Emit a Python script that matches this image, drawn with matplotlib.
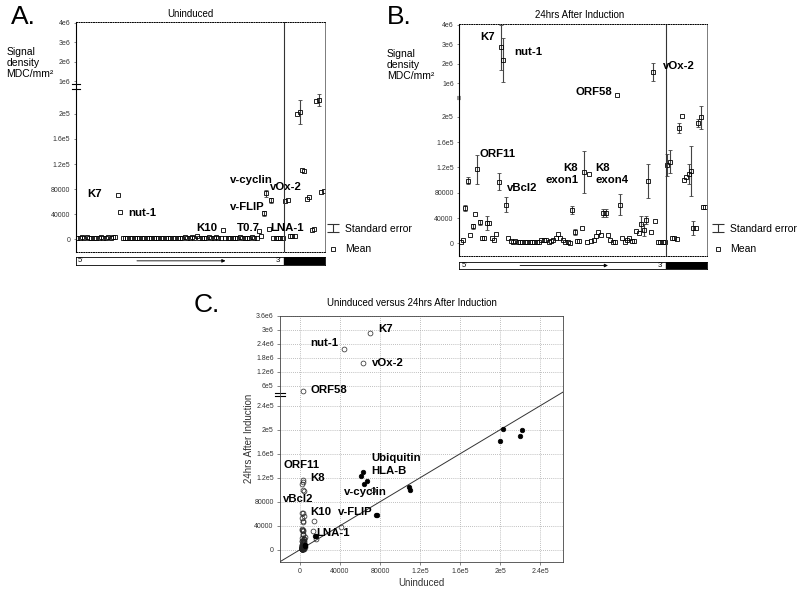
import numpy as np
import matplotlib
matplotlib.use("Agg")
import matplotlib.pyplot as plt
from matplotlib.path import Path
from matplotlib.lines import Line2D

plt.rcParams['font.family'] = ['Liberation Sans', 'DejaVu Sans']

W, H = 800, 592

# ---------------- data (signal density, MDC/mm2) ----------------
uninduced_viral = [1500, 2500, 3500, 3000, 3500, 3000, 2500, 3000, 2000, 2500,
                   3500, 2500, 3000, 3500, 1500, 3500, 3500, 70000, 43500, 3000,
                   2500, 1500, 2500,
                   2000, 2500, 2000, 1500, 1500, 2500, 2000, 1500, 1500, 2000,
                   2000, 1500, 2500, 1500, 1500, 1500, 1500, 2000,
                   1500, 1500, 2500, 1500, 3500, 2000,
                   2000, 4000, 3000, 5300, 3000, 2500, 3000, 2000, 3500, 2500,
                   2500, 3500, 2000, 3000, 14300, 3000, 2500, 1500, 2500, 2500, 2000,
                   3500, 2500, 1500, 1500, 1500, 4300, 1500, 3000, 13300, 5300, 41400,
                   73300, 16000, 62700, 1600, 1600, 1600, 1600, 1600]
uninduced_viral_err = [0] * 78 + [4000, 6000, 0, 4000, 0, 0, 0, 0, 0]

induced_viral = [1600, 5300, 56000, 99000, 12800, 26700, 47000, 117000, 33600, 9000,
                 8000, 32000, 32500, 8500, 5300, 15000, 97500, 2850000, 2180000, 61000,
                 8500, 4000, 1600,
                 3000, 2000, 1500, 1500, 1500, 2500, 2500, 2500, 1500, 1500,
                 1500, 5000, 5000, 5000, 2500, 4000, 4500, 8000,
                 14000, 8500, 5000, 2700, 1600, 500,
                 53000, 17600, 4000, 4000, 24500, 112500, 1600, 109000, 4300, 5900,
                 12300, 17600, 13900, 48000, 48000, 13300, 5000, 2700, 2700, 397000, 61300,
                 8500, 1600, 5900, 8500, 4300, 3000, 19200, 16000, 31000, 21300, 37300,
                 99000, 17600, 1570000, 35000, 1600, 1600, 1600, 1600]
induced_viral_err = [0, 0, 5000, 6000, 0, 4000, 0, 23000, 4000, 0,
                     0, 11000, 0, 0, 0, 0, 13000, 1160000, 1130000, 12000,
                     0, 0, 0,
                     0, 0, 0, 0, 0, 0, 0, 0, 0, 0, 0, 0, 0, 0, 0, 0, 0, 0,
                     0, 0, 0, 0, 0, 0,
                     6000, 5000, 0, 0, 0, 33000, 0, 0, 0, 0,
                     0, 0, 0, 6000, 6000, 0, 0, 0, 0, 0, 17000,
                     0, 0, 0, 0, 0, 0, 0, 0, 12000, 9000, 6000,
                     27000, 0, 450000, 0, 0, 0, 0, 0]

uninduced_ctrl = [61000, 63000, 5300, 5300, 5300, 200000, 203000, 110000, 109000,
                  64000, 67000, 15000, 16000, 220000, 222000, 76000, 77000]
uninduced_ctrl_err = [0, 0, 0, 0, 0, 0, 19000, 0, 0, 0, 0, 0, 0, 0, 9000, 0, 0]
induced_ctrl = [123800, 129000, 7900, 7900, 7000, 182000, 201000, 100000, 105000,
                109000, 114000, 23700, 23700, 190000, 199000, 58000, 58000]
induced_ctrl_err = [18000, 18000, 0, 0, 0, 8000, 0, 0, 0, 16000, 39000, 11000, 0,
                    6000, 18000, 0, 0]

ab_ticks = [0, 40000, 80000, 120000, 160000, 200000, 1e6, 2e6, 3e6, 4e6]
ab_tick_labels = ['0', '40000', '80000', '1.2e5', '1.6e5', '2e5', '1e6', '2e6', '3e6', '4e6']
c_yticks = [0, 40000, 80000, 120000, 160000, 200000, 240000,
            6e5, 1.2e6, 1.8e6, 2.4e6, 3e6, 3.6e6]
c_ytick_labels = ['0', '40000', '80000', '1.2e5', '1.6e5', '2e5', '2.4e5',
                  '6e5', '1.2e6', '1.8e6', '2.4e6', '3e6', '3.6e6']
c_xticks = [0, 40000, 80000, 120000, 160000, 200000, 240000]
c_xtick_labels = ['0', '40000', '80000', '1.2e5', '1.6e5', '2e5', '2.4e5']

labels_A = [("K7", 87.7, 194), ("nut-1", 128.3, 213.3), ("K10", 196, 227.7),
            ("T0.7", 237.3, 227.7), ("LNA-1", 270.7, 227.7), ("v-FLIP", 230, 206.7),
            ("v-cyclin", 230, 180), ("vOx-2", 270, 186.7)]
labels_B = [("K7", 480, 37.3), ("nut-1", 514.3, 52.3), ("vOx-2", 662.7, 65.7),
            ("ORF58", 575, 91.7), ("ORF11", 480, 154), ("vBcl2", 506.7, 187.7)]
labels_C = [("K7", 378.3, 329.3), ("nut-1", 310.7, 343.3), ("vOx-2", 371.7, 363.3),
            ("ORF58", 310.7, 390), ("Ubiquitin", 371.7, 458.3), ("HLA-B", 371.7, 471),
            ("ORF11", 283.3, 465), ("K8", 310, 478.3), ("v-cyclin", 344.3, 491.7),
            ("vBcl2", 283.3, 499.3), ("K10", 310, 511.7), ("v-FLIP", 337.7, 511.7),
            ("LNA-1", 316.7, 533.3)]

n_viral = len(induced_viral)
n_ctrl = len(induced_ctrl)
x_viral = np.arange(n_viral)
x_ctrl = np.arange(n_viral, n_viral + n_ctrl)
divider = n_viral - 0.5
XLIM = (-0.6, n_viral + n_ctrl - 0.4)


def break_scale(L, U, k, eps=1.0):
    def fwd(v):
        v = np.asarray(v, float)
        with np.errstate(all='ignore'):
            return np.where(v <= L, v,
                            np.where(v >= U, L + eps + (v - U) * k,
                                     L + (v - L) / (U - L) * eps))

    def inv(t):
        t = np.asarray(t, float)
        with np.errstate(all='ignore'):
            return np.where(t <= L, t,
                            np.where(t >= L + eps, U + (t - L - eps) / k,
                                     L + (t - L) / eps * (U - L)))
    return fwd, inv


fig = plt.figure(figsize=(W / 100, H / 100), dpi=100)


def fbox(l, r, t, b):
    return [l / W, 1 - b / H, (r - l) / W, (b - t) / H]


def ftext(x, y, s, size=8.2, weight='bold', ha='left', va='center', **kw):
    fig.text(x / W, 1 - y / H, s, fontsize=size, fontweight=weight,
             ha=ha, va=va, **kw)


def profile_panel(box, strip_box, uv, uerr, cv, cerr, scale, brk_style, brk_vals):
    ax = fig.add_axes(box)
    ax.set_yscale('function', functions=scale)
    ax.set_xlim(*XLIM)
    ax.set_ylim(-20000, 4.05e6)
    for xs, ys, es in ((x_viral, uv, uerr), (x_ctrl, cv, cerr)):
        ys = np.asarray(ys, float)
        es = np.asarray(es, float)
        m = es > 0
        if m.any():
            ax.errorbar(xs[m], ys[m], yerr=es[m], fmt='none', ecolor='#444',
                        elinewidth=0.8, capsize=1.2, capthick=0.6)
        ax.plot(xs, ys, 's', ms=3.4, mfc='none', mec='black', mew=0.6)
    ax.axvline(divider, color='#333', lw=0.8)
    ax.set_xticks([])
    ax.set_yticks(ab_ticks)
    ax.set_yticklabels(ab_tick_labels)
    ax.minorticks_off()
    ax.tick_params(axis='y', length=1.5, width=0.5, labelsize=5, labelcolor='#333',
                   pad=2.5, color='#555')
    ax.spines['left'].set_linewidth(0.8)
    ax.spines['right'].set_color('#666')
    ax.spines['right'].set_linewidth(0.6)
    for s in ('top', 'bottom'):
        ax.spines[s].set_linestyle((0, (1, 1.5)))
        ax.spines[s].set_linewidth(0.7)
    tr = ax.get_yaxis_transform()
    if brk_style == 'lines':
        for v in brk_vals:
            ax.plot([-0.016, 0.016], [v, v], transform=tr, color='black', lw=0.8,
                    clip_on=False)
    else:
        ax.plot([-0.008, 0.008], [brk_vals[0], brk_vals[0]], transform=tr,
                color='#999', lw=3, clip_on=False, solid_capstyle='butt')

    sax = fig.add_axes(strip_box)
    sax.set_xlim(*XLIM)
    sax.set_ylim(0, 1)
    sax.axvspan(divider, XLIM[1], color='black')
    sax.set_xticks([])
    sax.set_yticks([])
    for s in sax.spines.values():
        s.set_linewidth(0.6)
    sax.text(0.4, 0.5, "5'", fontsize=5.5, va='center', ha='left')
    sax.text(83, 0.5, "3'", fontsize=5.5, va='center', ha='left')
    sax.annotate('', xy=(62, 0.5), xytext=(25, 0.5),
                 arrowprops=dict(arrowstyle='-|>', lw=0.6, color='black',
                                 mutation_scale=5, shrinkA=0, shrinkB=0))
    return ax


ibeam = Path([(-1.3, 1), (1.3, 1), (0, 1), (0, -1), (-1.3, -1), (1.3, -1)],
             [Path.MOVETO, Path.LINETO, Path.MOVETO, Path.LINETO, Path.MOVETO, Path.LINETO])


def add_legend(ax, x, y):
    h1 = Line2D([], [], ls='none', marker=ibeam, ms=8, mew=0.8, color='#333')
    h2 = Line2D([], [], ls='none', marker='s', ms=3.4, mfc='none', mec='black', mew=0.6)
    ax.legend([h1, h2], ['Standard error', 'Mean'], loc='upper left',
              bbox_to_anchor=(x / W, 1 - y / H), bbox_transform=fig.transFigure,
              frameon=False, fontsize=7.5, handlelength=1.0, handletextpad=0.6,
              labelspacing=1.0, borderpad=0, borderaxespad=0)


# ---------------- Panel A ----------------
axA = profile_panel(fbox(75.7, 325, 21.7, 252), fbox(75.7, 325, 256.7, 265),
                    uninduced_viral, uninduced_viral_err, uninduced_ctrl, uninduced_ctrl_err,
                    break_scale(2.43e5, 7.06e5, 1594 / 51500), 'lines', [2.40e5, 8.6e5])
add_legend(axA, 328, 224)
ftext(190, 14, "Uninduced", size=7, weight='normal', ha='center')
ftext(11, 17, "A.", size=19, weight='normal')
ftext(6.5, 47, "Signal\ndensity\nMDC/mm²", size=7.5, weight='normal', va='top',
      linespacing=1.15)
for s, x, y in labels_A:
    ftext(x, y, s)

# ---------------- Panel B ----------------
axB = profile_panel(fbox(459.3, 706.7, 24, 256), fbox(459.3, 706.7, 261.7, 269.3),
                    induced_viral, induced_viral_err, induced_ctrl, induced_ctrl_err,
                    break_scale(2.30e5, 2.58e5, 1581 / 51500), 'block', [2.44e5])
add_legend(axB, 713, 224)
ftext(580, 15.5, "24hrs After Induction", size=7, weight='normal', ha='center')
ftext(387, 17, "B.", size=19, weight='normal')
ftext(387, 49, "Signal\ndensity\nMDC/mm²", size=7.5, weight='normal', va='top',
      linespacing=1.15)
for s, x, y in labels_B:
    ftext(x, y, s)
ftext(578.3, 174, "K8\nexon1", ha='right', multialignment='right', linespacing=1.3)
ftext(595, 174, "K8\nexon4", ha='left', linespacing=1.3)

# ---------------- Panel C ----------------
axC = fig.add_axes(fbox(280, 563, 316, 561.7))
axC.set_yscale('function', functions=break_scale(2.6e5, 2.6e5 + 1, 1667 / 42857))
axC.set_xlim(-20000, 263000)
axC.set_ylim(-20000, 3.6e6)
axC.axline((0, 0), (1e5, 1e5), color='#333', lw=0.7)
axC.plot(uninduced_viral, induced_viral, 'o', ms=3.5, mfc='none', mec='#222', mew=0.5)
axC.plot(uninduced_ctrl, induced_ctrl, 'o', ms=3.3, mfc='black', mec='black', mew=0.5)
axC.set_xticks(c_xticks)
axC.set_xticklabels(c_xtick_labels)
axC.set_yticks(c_yticks)
axC.set_yticklabels(c_ytick_labels)
axC.minorticks_off()
axC.tick_params(length=2, width=0.5, labelsize=5, labelcolor='#333', pad=2.5, color='#555')
axC.grid(True, ls=(0, (1, 1.5)), color='#aaa', lw=0.6)
for s in axC.spines.values():
    s.set_linewidth(0.6)
    s.set_color('#444')
trC = axC.get_yaxis_transform()
for v in (2.57e5, 3.0e5):
    axC.plot([-0.016, 0.016], [v, v], transform=trC, color='black', lw=0.8, clip_on=False)
axC.set_xlabel("Uninduced", fontsize=7, color='#333', labelpad=2)
axC.set_ylabel("24hrs After Induction", fontsize=7, color='#333', labelpad=0.5)
ftext(411.7, 303, "Uninduced versus 24hrs After Induction", size=7, weight='normal',
      ha='center')
ftext(194, 305, "C.", size=19, weight='normal')
for s, x, y in labels_C:
    ftext(x, y, s)

fig.savefig("out.png", dpi=100)
